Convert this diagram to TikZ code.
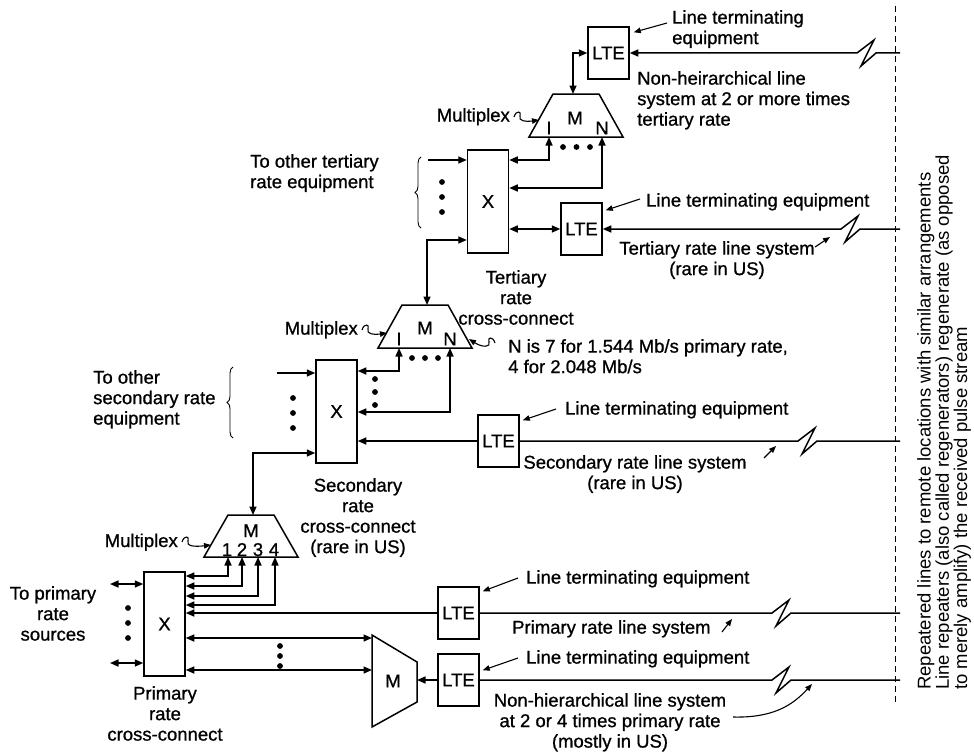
\documentclass[tikz,border=0pt]{standalone}
\usepackage{fontspec}
\setmainfont{Liberation Sans}
\newfontfamily\heavy[FakeBold=0.9]{Liberation Sans}
\usetikzlibrary{arrows.meta,calc,decorations.pathreplacing}
\newcommand\squigR[2]{\draw[ptr] (#1) .. controls ($(#1)+(2,-7)$) and ($(#1)+(8,-6)$) .. ($(#1)+(6,-1)$) .. controls ($(#1)+(4,4)$) and ($(#1)+(12,5)$) .. (#2);}
\newcommand\squigL[2]{\draw[ptr] (#1) .. controls ($(#1)+(-2,-7)$) and ($(#1)+(-8,-6)$) .. ($(#1)+(-6,-1)$) .. controls ($(#1)+(-4,4)$) and ($(#1)+(-12,5)$) .. (#2);}
\begin{document}
\begin{tikzpicture}[x=1pt,y=-1pt,
  every node/.style={inner sep=0pt,font=\heavy\fontsize{18.5}{20.5}\selectfont},
  conn/.style={line width=1.5pt},
  arr/.style={conn,-{Triangle[length=8.5pt,width=7pt]}},
  darr/.style={conn,{Triangle[length=8.5pt,width=7pt]}-{Triangle[length=8.5pt,width=7pt]}},
  rarr/.style={conn,{Triangle[length=8.5pt,width=7pt]}-},
  ptr/.style={line width=1.1pt,-{Triangle[length=7pt,width=5.5pt]}},
  box/.style={draw,line width=1.5pt,minimum width=41pt,minimum height=52pt},
  xbox/.style={draw,line width=1.5pt,minimum width=41pt},
  mux/.style={draw,line width=1.5pt,line join=miter},
  brc/.style={line width=0.9pt,decorate,decoration={brace,amplitude=6pt}},
]
\useasboundingbox (0,0) rectangle (974,752);

% ---------------- boxes ----------------
\node[box] (lte1) at (608.5,53) {LTE};
\node[box] (lte2) at (581.5,229) {LTE};
\node[box] (lte3) at (498.5,441) {LTE};
\node[box] (lte4) at (458.5,613) {LTE};
\node[box] (lte5) at (458.5,680) {LTE};
\node[xbox,minimum height=103pt] (x1) at (488,201.5) {X};
\node[xbox,minimum height=103pt] (x2) at (336.5,411.5) {X};
\node[xbox,minimum height=104pt] (x3) at (164.5,624) {X};

% ---------------- multiplexers ----------------
\draw[mux] (529,137) -- (553,94) -- (599,94) -- (623,137) -- cycle;
\node (mAm) at (575,118) {M};
\node (mAi) at (549,128) {I};
\node (mAn) at (602,128) {N};
\coordinate (mAtop) at (573,94);
\coordinate (mAI) at (549,137);
\coordinate (mAN) at (602,137);

\draw[mux] (378,348) -- (402,305) -- (448,305) -- (472,348) -- cycle;
\node (mBm) at (425,328) {M};
\node (mBi) at (399,339) {I};
\node (mBn) at (450,339) {N};
\coordinate (mBtop) at (427,305);
\coordinate (mBI) at (399,348);
\coordinate (mBN) at (450,348);

\draw[mux] (204,557) -- (228,515) -- (274,515) -- (298,557) -- cycle;
\node[anchor=base] (mCm) at (251,537) {M};
\node[anchor=base] (mC1l) at (227,556) {1};
\node[anchor=base] (mC2l) at (242,556) {2};
\node[anchor=base] (mC3l) at (258,556) {3};
\node[anchor=base] (mC4l) at (274,556) {4};
\coordinate (mCtop) at (253,515);
\coordinate (mC1) at (228,557);
\coordinate (mC2) at (242,557);
\coordinate (mC3) at (258,557);
\coordinate (mC4) at (275,557);

\draw[mux] (372,635) -- (417,662) -- (417,702) -- (372,727) -- cycle;
\node (mDm) at (393,681) {M};
\coordinate (mDin) at (417,680);

% ---------------- top level ----------------
\draw[rarr] (lte1.east) -- (857,53) -- (874,40) -- (861,66) -- (876,53) -- (900,53);
\draw[darr] (lte1.west) -| (mAtop);
\draw[darr] (mAI) |- (x1.east |- 0,160);
\draw[darr] (mAN) |- (x1.east |- 0,188);
\fill (563,147) circle[radius=2.9] (576.5,147) circle[radius=2.9] (590,147) circle[radius=2.9];

% ---------------- tertiary ----------------
\draw[darr] (x1.east |- lte2.west) -- (lte2.west);
\draw[rarr] (lte2.east) -- (841,229) -- (858,216) -- (845,242) -- (860,229) -- (900,229);
\coordinate (t1in) at (428,160);
\draw[arr] (t1in) -- (x1.west |- t1in);
\draw[darr] (x1.west |- 0,240) -| (mBtop);
\fill (442,182) circle[radius=2.9] (442,197) circle[radius=2.9] (442,212) circle[radius=2.9];
\draw[brc] (421,228) -- (421,157);

% ---------------- secondary ----------------
\draw[darr] (mBI) |- (x2.east |- 0,371);
\draw[darr] (mBN) |- (x2.east |- 0,412);
\fill (412,358) circle[radius=2.9] (425,358) circle[radius=2.9] (438,358) circle[radius=2.9];
\fill (375,379) circle[radius=2.9] (375,392) circle[radius=2.9] (375,405) circle[radius=2.9];
\draw[arr] (lte3.west) -- (x2.east |- lte3.west);
\draw[conn] (lte3.east) -- (798,441) -- (815,428) -- (802,454) -- (817,441) -- (900,441);
\coordinate (t2in) at (277,373);
\draw[arr] (t2in) -- (x2.west |- t2in);
\draw[darr] (x2.west |- 0,453) -| (mCtop);
\fill (293,398) circle[radius=2.9] (293,413) circle[radius=2.9] (293,428) circle[radius=2.9];
\draw[brc] (233,438) -- (233,367);

% ---------------- primary ----------------
\coordinate (p1) at (110,584);
\coordinate (p2) at (110,663);
\draw[darr] (p1) -- (x3.west |- p1);
\draw[darr] (p2) -- (x3.west |- p2);
\fill (128,608) circle[radius=2.9] (128,623) circle[radius=2.9] (128,638) circle[radius=2.9];
\draw[darr] (mC1) |- (x3.east |- 0,576);
\draw[darr] (mC2) |- (x3.east |- 0,586);
\draw[darr] (mC3) |- (x3.east |- 0,596);
\draw[darr] (mC4) |- (x3.east |- 0,605);
\draw[arr] (lte4.west) -- (x3.east |- lte4.west);
\draw[conn] (lte4.east) -- (772,613) -- (789,600) -- (776,626) -- (791,613) -- (900,613);
\coordinate (mDa) at (372,638);
\coordinate (mDb) at (372,670);
\draw[darr] (x3.east |- mDa) -- (mDa);
\draw[darr] (x3.east |- mDb) -- (mDb);
\fill (280,646) circle[radius=2.9] (280,656) circle[radius=2.9] (280,666) circle[radius=2.9];
\draw[arr] (lte5.west) -- (mDin);
\draw[conn] (lte5.east) -- (772,680) -- (789,667) -- (776,693) -- (791,680) -- (900,680);

% ---------------- dashed boundary ----------------
\draw[line width=1pt,dash pattern=on 6pt off 4pt] (895,6) -- (895,705);

% ---------------- texts ----------------
\node[anchor=north west,align=left] (tA1) at (672,10) {Line terminating\\equipment};
\draw[ptr] (667,23) -- ($(lte1.north east)+(4,6)$);
\node[anchor=north west,align=left] (tA2) at (637,71) {Non-heirarchical line\\system at 2 or more times\\tertiary rate};
\node[anchor=base east] (mxA) at (510,121.5) {Multiplex};
\coordinate (sqA1) at (514,117);
\coordinate (sqA2) at (539,120);
\squigR{sqA1}{sqA2}

\node[anchor=north west,align=left] (tB1) at (250,154) {To other tertiary\\rate equipment};
\node[anchor=base west] (tB2) at (646,206.6) {Line terminating equipment};
\draw[ptr] (640,199) -- ($(lte2.north east)+(3,8)$);
\node[anchor=north,align=center] (tB3) at (717,241) {Tertiary rate line system\\(rare in US)};
\draw[ptr] (815,247) -- (830,237);
\node[anchor=north,align=center] (tB4) at (516,270) {Tertiary\\rate\\cross-connect};

\node[anchor=base east] (mxB) at (358,334.6) {Multiplex};
\coordinate (sqB1) at (362,330);
\coordinate (sqB2) at (387,333);
\squigR{sqB1}{sqB2}
\node[anchor=north west,align=left] (tC1) at (508,339) {N is 7 for 1.544 Mb/s primary rate,\\4 for 2.048 Mb/s};
\coordinate (sqC1) at (495,343);
\coordinate (sqC2) at (469,339);
\squigL{sqC1}{sqC2}
\node[anchor=north west,align=left] (tC2) at (93,370) {To other\\secondary rate\\equipment};
\node[anchor=base west] (tC3) at (565,414.6) {Line terminating equipment};
\draw[ptr] (556,409) -- ($(lte3.north east)+(3,6)$);
\node[anchor=north,align=center] (tC4) at (635,455) {Secondary rate line system\\(rare in US)};
\draw[ptr] (764,458) -- (776,446);
\node[anchor=north,align=center] (tC5) at (358,478) {Secondary\\rate\\cross-connect\\(rare in US)};

\node[anchor=base east] (mxC) at (178,547) {Multiplex};
\coordinate (sqD1) at (182,542);
\coordinate (sqD2) at (211,545);
\squigR{sqD1}{sqD2}
\node[anchor=north,align=center] (tD1) at (53,586) {To primary\\rate\\sources};
\node[anchor=north,align=center] (tD2) at (165,686) {Primary\\rate\\cross-connect};
\node[anchor=base west] (tD3) at (526,583.6) {Line terminating equipment};
\draw[ptr] (518,578) -- ($(lte4.north east)+(3,5)$);
\node[anchor=base west] (tD4) at (512,633.6) {Primary rate line system};
\draw[ptr] (722,632) -- (732,619);
\node[anchor=base west] (tD5) at (526,663.6) {Line terminating equipment};
\draw[ptr] (518,658) -- ($(lte5.north east)+(3,17)$);
\node[anchor=north,align=center] (tD6) at (610,693) {Non-hierarchical line system\\at 2 or 4 times primary rate\\(mostly in US)};
\draw[ptr] (733,717) .. controls (772,718) and (792,706) .. (812,684);

\node[rotate=90,anchor=north west,align=left,font=\fontsize{18.5}{17}\selectfont] (rep) at (917,690)
 {Repeatered lines to remote locations with similar arrangements\\Line repeaters (also called regenerators) regenerate (as opposed\\to merely amplify) the received pulse stream};
\end{tikzpicture}
\end{document}
